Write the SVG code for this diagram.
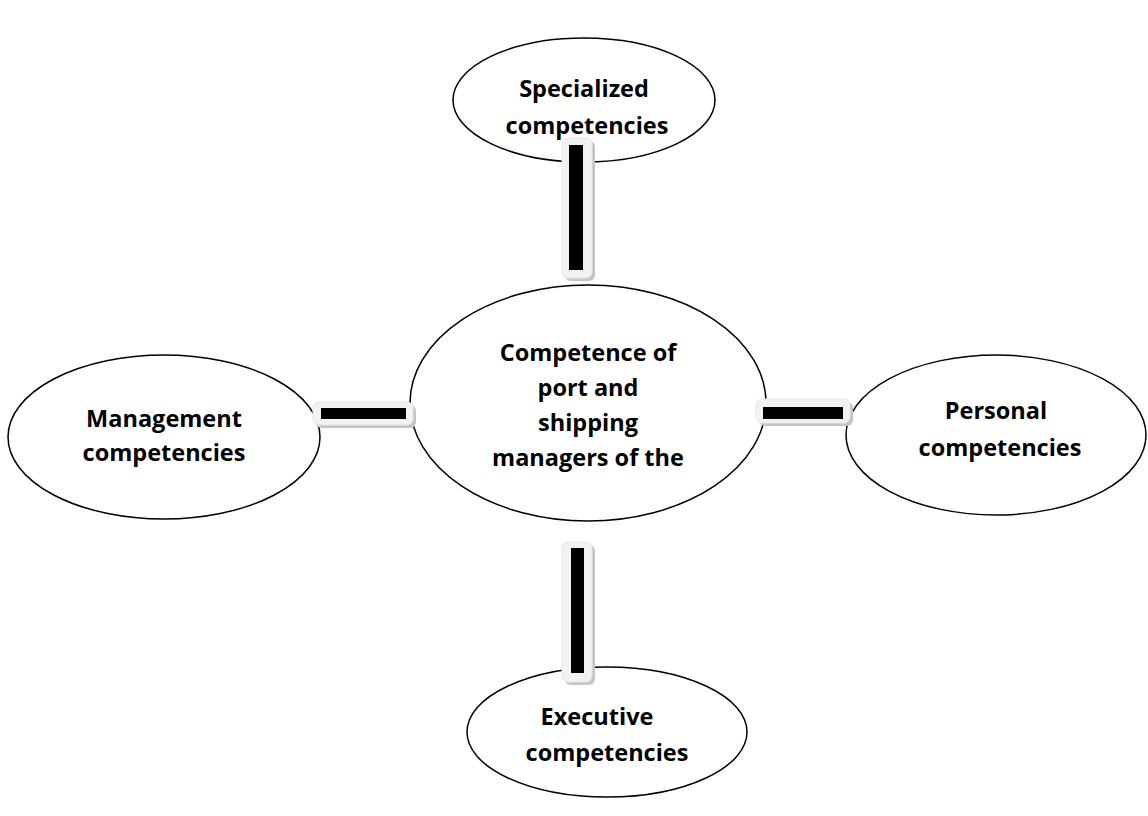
<svg xmlns="http://www.w3.org/2000/svg" width="1148" height="816" viewBox="0 0 1148 816">
<defs>
<style>
.node{fill:#fff;stroke:#000;stroke-width:1.5}
.t{font-family:"Open Sans","Liberation Sans",sans-serif;font-weight:bold;font-size:23.5px;text-anchor:middle;fill:#000}
.sh{fill:#c4c4c4}
.bg{fill:#f2f2f2;stroke:#e6e6e6;stroke-width:1}
.bar{fill:#000}
</style>
</defs>
<rect width="1148" height="816" fill="#fff"/>
<g id="specialized">
<ellipse class="node" cx="584" cy="100" rx="131" ry="62"/>
<text class="t" x="584" y="97">Specialized</text>
<text class="t" x="587" y="134">competencies</text>
</g>
<g id="executive">
<ellipse class="node" cx="607" cy="732" rx="140" ry="65"/>
<text class="t" x="597" y="725">Executive</text>
<text class="t" x="607" y="761">competencies</text>
</g>
<g id="management">
<ellipse class="node" cx="164" cy="437" rx="156" ry="82"/>
<text class="t" x="164" y="427">Management</text>
<text class="t" x="164" y="461">competencies</text>
</g>
<g id="personal">
<ellipse class="node" cx="996" cy="435" rx="150" ry="80"/>
<text class="t" x="996" y="419">Personal</text>
<text class="t" x="1000" y="456">competencies</text>
</g>
<g id="center">
<ellipse class="node" cx="588" cy="403" rx="178" ry="118"/>
<text class="t" x="588" y="361">Competence of</text>
<text class="t" x="588" y="396">port and</text>
<text class="t" x="588" y="431">shipping</text>
<text class="t" x="588" y="466">managers of the</text>
</g>
<g id="connectors">
<rect class="sh" x="565" y="141" width="30" height="140" rx="6"/>
<rect class="bg" x="562" y="138" width="30" height="140" rx="6"/>
<rect class="bar" x="569" y="145" width="14" height="125"/>
<rect class="sh" x="565" y="545" width="30" height="140" rx="6"/>
<rect class="bg" x="562" y="542" width="30" height="140" rx="6"/>
<rect class="bar" x="571" y="548" width="13" height="125"/>
<rect class="sh" x="316" y="405" width="100" height="23" rx="6"/>
<rect class="bg" x="313" y="402" width="100" height="23" rx="6"/>
<rect class="bar" x="321" y="408" width="85" height="11"/>
<rect class="sh" x="759" y="402" width="94" height="24" rx="6"/>
<rect class="bg" x="756" y="399" width="94" height="24" rx="6"/>
<rect class="bar" x="763" y="407" width="80" height="12"/>
</g>
</svg>
